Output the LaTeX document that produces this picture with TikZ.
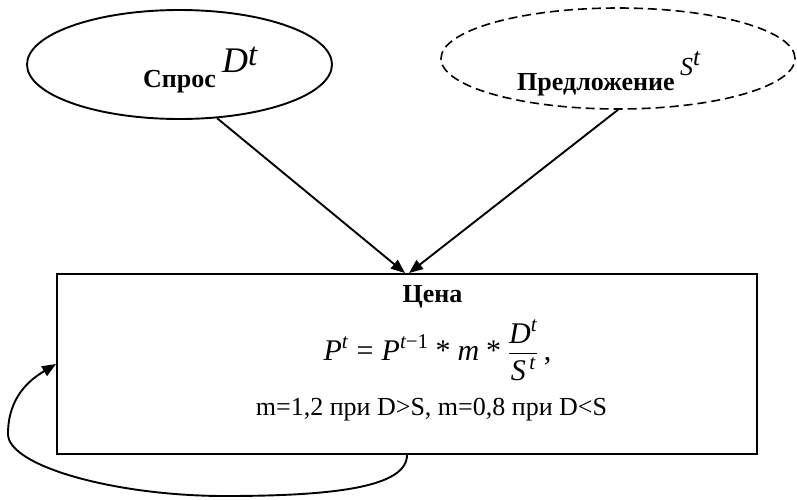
\documentclass[tikz,border=0pt]{standalone}
\usepackage{fontspec}
\usepackage{amsmath}
\setmainfont{Liberation Serif}
\usetikzlibrary{shapes.geometric,arrows.meta}
\begin{document}
\begin{tikzpicture}[x=1pt,y=-1pt,
  lw/.style={line width=1.9pt},
  oval/.style={ellipse, draw, lw, inner sep=0pt},
  box/.style={rectangle, draw, lw, inner sep=0pt},
  arr/.style={lw, -{Triangle[length=14pt,width=11pt]}},
  lbl/.style={inner sep=0pt, font=\fontsize{26}{31}\selectfont\bfseries},
  txt/.style={inner sep=0pt, font=\fontsize{26}{31}\selectfont}]
\useasboundingbox (0,0) rectangle (797,499);
% shapes
\node[oval, minimum width=305pt, minimum height=109pt] (demand) at (179.5,64.5) {};
\node[oval, dash pattern=on 9pt off 5pt, line width=1.6pt, minimum width=354pt, minimum height=101pt] (supply) at (618,58.5) {};
\node[box, minimum width=700pt, minimum height=180pt] (price) at (407,364) {};
% labels in ellipses
\node[lbl, anchor=base west] (dlab) at (143,87) {Спрос};
\node[txt, anchor=base west] (dsym) at (222,72) {\fontsize{36}{42}\selectfont\itshape D\raisebox{7pt}{\fontsize{33}{38}\selectfont t}};
\node[lbl, anchor=base west] (slab) at (517,90) {Предложение};
\node[txt, anchor=base west] (ssym) at (680,75) {\fontsize{26}{30}\selectfont\itshape S\raisebox{10pt}{\fontsize{25}{30}\selectfont t}};
% texts in the box
\node[lbl, anchor=base] (ptitle) at (432.5,302) {Цена};
\node[txt, anchor=base] (pform) at (437.5,360) {\fontsize{30}{36}\selectfont
  $\textit{P}^{\textit{t}}\mkern6mu\text{=}\mkern6mu\textit{P}^{\textit{t}\text{−1}}\mkern5mu\text{*}\mkern5mu\textit{m}\mkern5mu\text{*}\mkern5mu\dfrac{\textit{D}^{\textit{t}}}{\textit{S}^{\,\textit{t}}}\mkern4mu\text{,}$};
\node[txt, anchor=base] (pcond) at (431.5,415) {m=1,2 при D>S, m=0,8 при D<S};
% connectors
\draw[arr] (demand.-55) -- ([xshift=-2pt]price.north);
\draw[arr] (supply.south) -- ([xshift=2pt]price.north);
\coordinate (fb1) at (225,496);
\coordinate (fb2) at (8,434);
\draw[arr] (price.south) .. controls +(0,32) and +(110,0) .. (fb1)
  .. controls +(-110,0) and +(0,32) .. (fb2)
  .. controls +(0,-38) and +(-25,15) .. (price.west);
\end{tikzpicture}
\end{document}
